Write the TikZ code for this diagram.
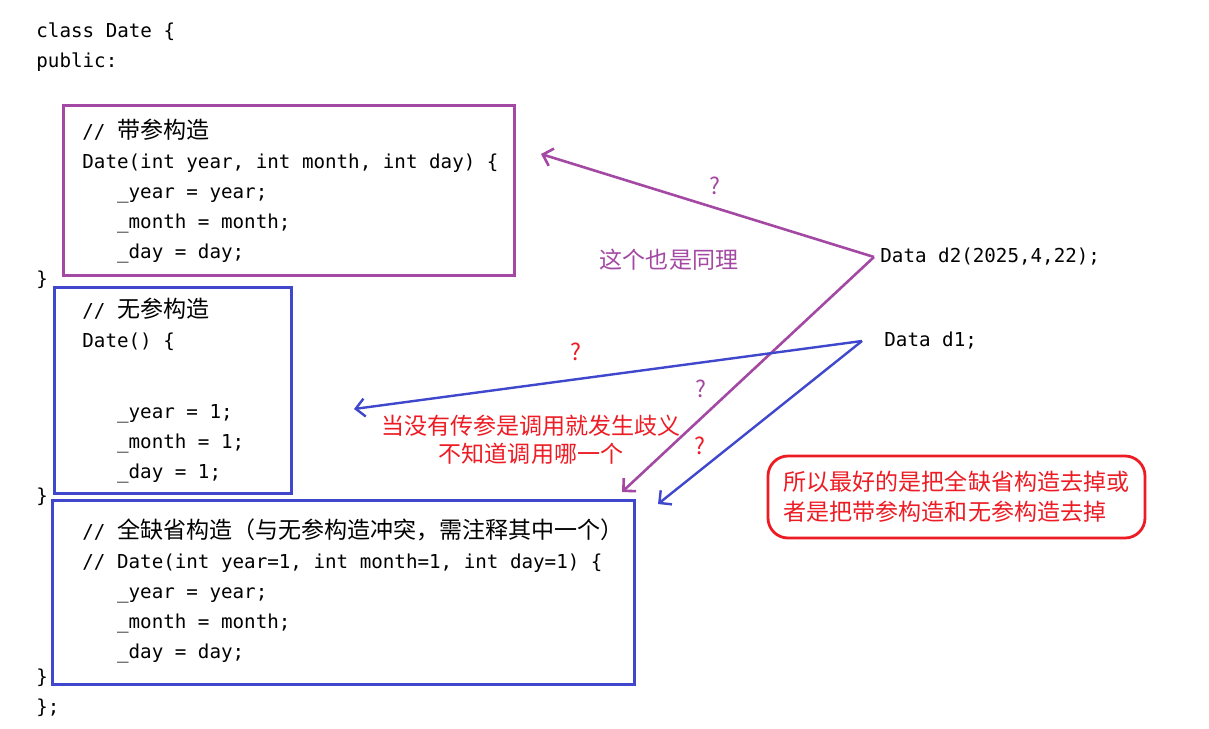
\documentclass[tikz,border=0pt]{standalone}
\usepackage{fontspec}
\setmonofont{DejaVu Sans Mono}
\newfontfamily\cjk[Scale=1.2]{Noto Sans CJK SC}
\usetikzlibrary{arrows.meta,positioning}
\definecolor{PaintPurple}{HTML}{A349A4}
\definecolor{PaintBlue}{HTML}{3F48CC}
\definecolor{PaintRed}{HTML}{ED1C24}
\newcommand{\codefont}{\fontsize{9.6}{15}\selectfont\ttfamily}
\newcommand{\notefont}{\fontsize{9.6}{14}\selectfont\cjk}
\newcommand{\ind}{\phantom{xxx}}

\begin{document}
\begin{tikzpicture}[
    x=0.5pt, y=-0.5pt,
    every node/.style={inner sep=0pt},
    code/.style={
        anchor=west,
        align=left,
        font=\codefont
    },
    note/.style={
        align=center,
        font=\notefont
    },
    frame/.style={
        rectangle,
        anchor=north west,
        line width=1.4pt
    },
    notebox/.style={
        rectangle,
        rounded corners=10pt,
        draw=PaintRed,
        line width=1.4pt,
        align=left,
        text=PaintRed,
        font=\fontsize{9.6}{15}\selectfont\cjk,
        minimum width=188.5pt,
        minimum height=41pt
    },
    purplearrow/.style={
        -{Straight Barb[length=4.5pt,width=9pt]},
        line width=1.3pt,
        color=PaintPurple
    },
    bluearrow/.style={
        -{Straight Barb[length=4.5pt,width=9pt]},
        line width=1.2pt,
        color=PaintBlue
    }
]
\useasboundingbox[fill=white] (0,0) rectangle (1209,728);

% frames round the three constructors
\node[frame, draw=PaintPurple, minimum width=225.5pt, minimum height=85pt] (paramsframe) at (62,104) {};
\node[frame, draw=PaintBlue, minimum width=118.5pt, minimum height=103pt] (noparamsframe) at (53,286) {};
\node[frame, draw=PaintBlue, minimum width=291pt, minimum height=92pt] (defaultframe) at (51,499) {};

% class code
\node[code] (head) at (36,47) {class Date \{\\public:};

\node[code] (paramsbody) at (82,191.5) {
// {\cjk 带参构造}\\
Date(int year, int month, int day) \{\\
\ind\_year = year;\\
\ind\_month = month;\\
\ind\_day = day;
};
\node[code] (close1) at (36,280) {\}};

\node[code] (noparamsbody) at (82,390.5) {
// {\cjk 无参构造}\\
Date() \{\\[20.5pt]
\ind\_year = 1;\\
\ind\_month = 1;\\
\ind\_day = 1;
};
\node[code] (close2) at (36,497) {\}};

\node[code] (defaultbody) at (82,590.5) {
// {\cjk 全缺省构造（与无参构造冲突，需注释其中一个）}\\
// Date(int year=1, int month=1, int day=1) \{\\
\ind\_year = year;\\
\ind\_month = month;\\
\ind\_day = day;
};
\node[code] (close3) at (36,678) {\}};
\node[code] (closeclass) at (36,708) {\};};

% calls
\node[code, inner xsep=3pt] (d2) at (874,257) {Data d2(2025,4,22);};
\node[code, inner xsep=11pt] (d1) at (862,341) {Data d1;};

% notes
\node[note, text=PaintPurple] (qparams) at (715,186) {?};
\node[note, text=PaintPurple] (same) at (669,260) {这个也是同理};
\node[note, text=PaintRed] (qnoparams) at (576,352) {?};
\node[note, text=PaintPurple] (qdefault) at (701,389) {?};
\node[note, text=PaintRed] (qdefaultb) at (700,446) {?};
\node[note, text=PaintRed] (ambiguous) at (531,440) {当没有传参是调用就发生歧义\\不知道调用哪一个};
\node[notebox] (advice) at (956.5,497) {所以最好的是把全缺省构造去掉或\\者是把带参构造和无参构造去掉};

% arrow tips
\coordinate (tipparams) at (541,154);
\coordinate (tipdefault) at (622,492);
\coordinate (tipnoparams) at (354,409);
\coordinate (tipdefaultb) at (658,504);

\draw[purplearrow] (d2.west) -- (tipparams);
\draw[purplearrow] (d2.west) -- (tipdefault);
\draw[bluearrow] (d1.west) -- (tipnoparams);
\draw[bluearrow] (d1.west) -- (tipdefaultb);

\end{tikzpicture}
\end{document}
